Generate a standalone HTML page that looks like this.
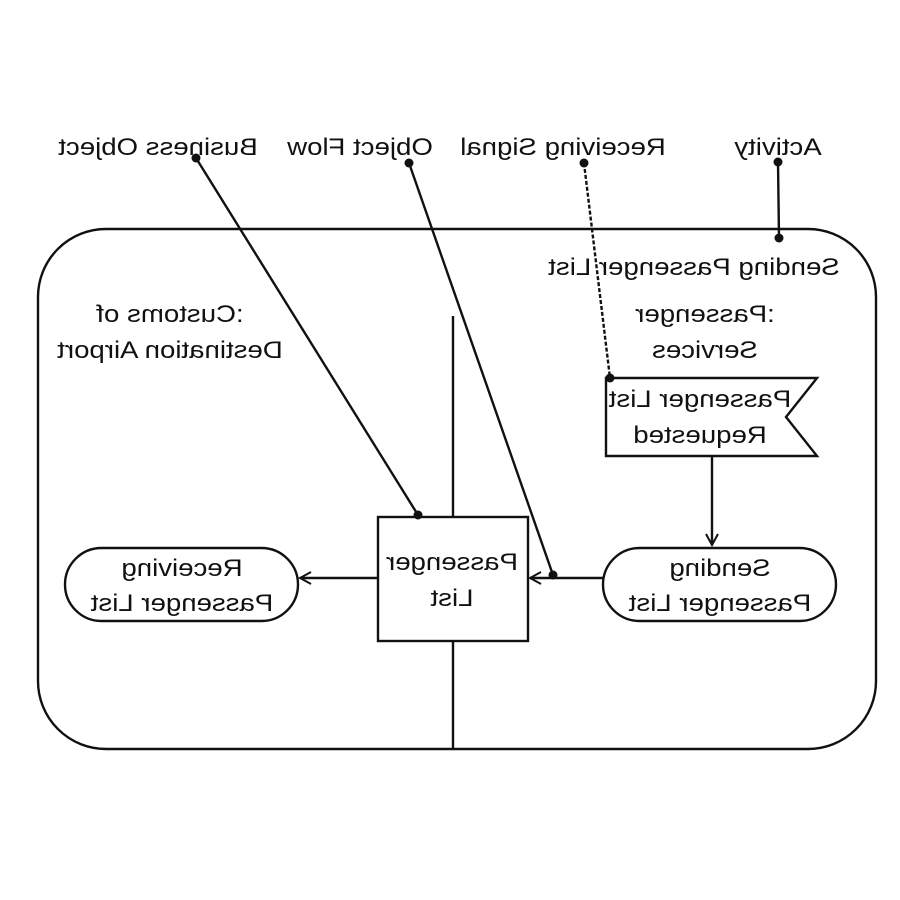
<!DOCTYPE html>
<html><head><meta charset="utf-8"><style>
html,body{margin:0;padding:0;background:#fff;}
svg{display:block;}
text{font-family:"Liberation Sans",sans-serif;font-size:24px;fill:#111;}
</style></head><body>
<svg width="900" height="900" viewBox="0 0 900 900" xmlns="http://www.w3.org/2000/svg">
<defs>
<marker id="a" markerWidth="14" markerHeight="14" refX="12" refY="7" orient="auto" markerUnits="userSpaceOnUse">
<path d="M1,1 L12,7 L1,13" fill="none" stroke="#111" stroke-width="2"/>
</marker>
</defs>
<g stroke="#111" stroke-width="2.4" fill="none">
<rect x="38" y="229" width="838" height="520" rx="68" ry="68"/>
<line x1="453" y1="316" x2="453" y2="749"/>
<path d="M606,378 L817,378 L786,417 L817,456 L606,456 Z" fill="#fff"/>
<line x1="712" y1="456" x2="712" y2="545" marker-end="url(#a)"/>
<rect x="603" y="548" width="233" height="73" rx="36.5" fill="#fff"/>
<line x1="603" y1="578" x2="530" y2="578" marker-end="url(#a)"/>
<rect x="378" y="517" width="150" height="124" fill="#fff"/>
<line x1="378" y1="578" x2="300" y2="578" marker-end="url(#a)"/>
<rect x="65" y="548" width="233" height="73" rx="36.5" fill="#fff"/>
<line x1="778" y1="162" x2="779" y2="238"/>
<line x1="584" y1="163" x2="610" y2="378" stroke-dasharray="4,2"/>
<line x1="409" y1="163" x2="553" y2="575"/>
<line x1="196" y1="158" x2="418" y2="515"/>
</g>
<g fill="#111">
<circle cx="778" cy="162" r="4.5"/><circle cx="779" cy="238" r="4.5"/>
<circle cx="584" cy="163" r="4.5"/><circle cx="610" cy="378" r="4.5"/>
<circle cx="409" cy="163" r="4.5"/><circle cx="553" cy="575" r="4.5"/>
<circle cx="196" cy="158" r="4.5"/><circle cx="418" cy="515" r="4.5"/>
</g>
<g text-anchor="middle">
<text transform="translate(778,155) scale(-1.15,1)">Activity</text>
<text transform="translate(563,155) scale(-1.15,1)">Receiving Signal</text>
<text transform="translate(360,155) scale(-1.15,1)">Object Flow</text>
<text transform="translate(158,155) scale(-1.15,1)">Business Object</text>
<text transform="translate(694,275) scale(-1.15,1)">Sending Passenger List</text>
<text transform="translate(705,322) scale(-1.15,1)">:Passenger</text>
<text transform="translate(705,358) scale(-1.15,1)">Services</text>
<text transform="translate(170,322) scale(-1.15,1)">:Customs of</text>
<text transform="translate(170,358) scale(-1.15,1)">Destination Airport</text>
<text transform="translate(700,407) scale(-1.15,1)">Passenger List</text>
<text transform="translate(700,443) scale(-1.15,1)">Requested</text>
<text transform="translate(720,576) scale(-1.15,1)">Sending</text>
<text transform="translate(720,611) scale(-1.15,1)">Passenger List</text>
<text transform="translate(452,570) scale(-1.15,1)">Passenger</text>
<text transform="translate(452,606) scale(-1.15,1)">List</text>
<text transform="translate(182,576) scale(-1.15,1)">Receiving</text>
<text transform="translate(182,611) scale(-1.15,1)">Passenger List</text>
</g>
</svg>
</body></html>
